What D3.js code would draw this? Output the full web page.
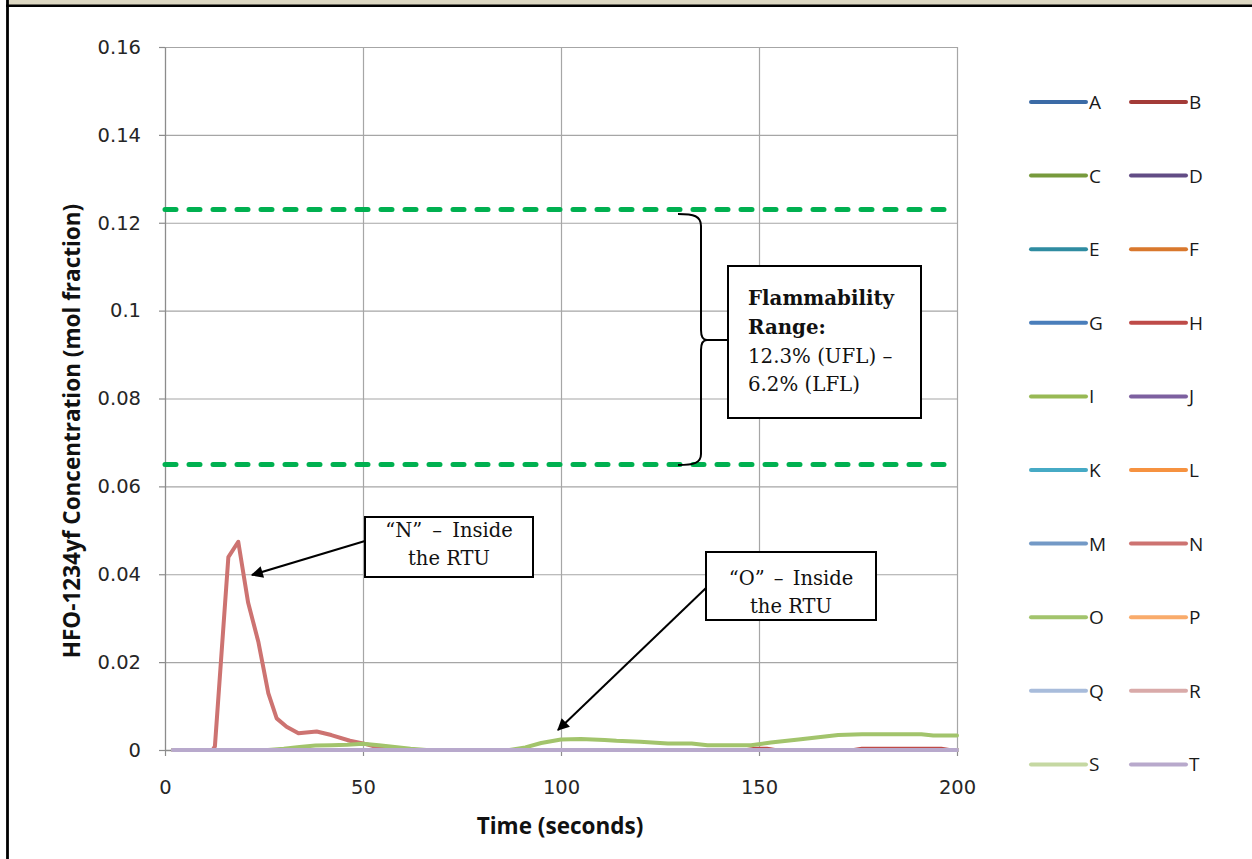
<!DOCTYPE html>
<html>
<head>
<meta charset="utf-8">
<script src="https://cdn.jsdelivr.net/npm/d3@7/dist/d3.min.js"></script>
<style>
  html, body { margin: 0; padding: 0; background: #ffffff; }
  svg { display: block; }
</style>
</head>
<body>
<svg id="chart" width="1252" height="859"></svg>
<script>
// ---------------- DATA ----------------
const seriesNames = ["A","B","C","D","E","F","G","H","I","J","K","L","M","N","O","P","Q","R","S","T"];
const seriesColors = ["#3b6ba6","#a33b38","#779a3c","#624c85","#2f8ca1","#d9782d",
                      "#4a7ebb","#be4b48","#98b954","#7d60a0","#46aac5","#f69240",
                      "#7399c6","#cd7371","#a2c46c","#f9ab6b","#a8bcdb","#d9aaa9","#c5d8a2","#b8a9cc"];

// series that stay at zero for the whole run
const timeZero = [2, 200];
const valuesZero = [0, 0];

// "N" - inside the RTU
const timeN   = [2, 12, 12.6, 16, 18.5, 21, 23.6, 26.1, 28.2, 30.7, 33.7, 38.3, 42, 46.7, 50, 53, 57, 200];
const valuesN = [0, 0, 0.0008, 0.0439, 0.0474, 0.0335, 0.0245, 0.0129, 0.0072, 0.0053, 0.0038, 0.0042, 0.0034, 0.0021, 0.0015, 0.0008, 0, 0];

// "O" - inside the RTU
const timeO   = [2, 26, 30, 34, 38, 42, 46, 50, 54, 58, 62, 66, 87, 91, 95, 100, 105, 111, 114, 120, 127, 133, 137, 148, 153, 160, 165, 170, 176, 184, 191, 194, 200];
const valuesO = [0, 0, 0.0003, 0.0007, 0.0010, 0.0011, 0.0012, 0.0014, 0.0011, 0.0007, 0.0003, 0, 0, 0.0006, 0.0016, 0.0024, 0.0025, 0.0023, 0.0021, 0.0019, 0.0015, 0.0015, 0.0011, 0.0011, 0.0017, 0.0024, 0.0029, 0.0034, 0.0036, 0.0036, 0.0036, 0.0033, 0.0033];

// "H" - barely above zero
const timeH   = [2, 147, 149, 152, 154, 174, 176, 196, 198, 200];
const valuesH = [0, 0, 0.0003, 0.0003, 0, 0, 0.0003, 0.0003, 0, 0];

// flammability limits (mol fraction)
const flammabilityLimits = [0.123, 0.065];

const xTickValues = [0, 50, 100, 150, 200];
const xTickLabels = ["0", "50", "100", "150", "200"];
const yTickValues = [0, 0.02, 0.04, 0.06, 0.08, 0.10, 0.12, 0.14, 0.16];
const yTickLabels = ["0", "0.02", "0.04", "0.06", "0.08", "0.1", "0.12", "0.14", "0.16"];

const xTitle = "Time (seconds)";
const yTitle = "HFO-1234yf Concentration (mol fraction)";

// ---------------- CHART ----------------
const svg = d3.select("#chart");

// frame
svg.append("rect").attr("x", 9).attr("y", 0).attr("width", 1243).attr("height", 5).attr("fill", "#ddd8c2");
svg.append("line").attr("x1", 6).attr("x2", 1252).attr("y1", 5.7).attr("y2", 5.7).attr("stroke", "#000").attr("stroke-width", 2.5);
svg.append("line").attr("x1", 7.5).attr("x2", 7.5).attr("y1", 0).attr("y2", 859).attr("stroke", "#000").attr("stroke-width", 2.8);

const x = d3.scaleLinear().domain([0, 200]).range([165, 957]);
const y = d3.scaleLinear().domain([0, 0.16]).range([750, 47]);

const gridColor = "#a6a6a6";
const axisColor = "#8c8c8c";

// gridlines
svg.append("g")
  .attr("transform", `translate(${x(0)},0)`)
  .call(d3.axisLeft(y).tickValues(yTickValues.slice(1)).tickSize(-(x(200) - x(0))).tickFormat(""))
  .call(g => g.select(".domain").remove())
  .call(g => g.selectAll("line").attr("stroke", gridColor).attr("stroke-width", 1.2));
svg.append("g")
  .attr("transform", `translate(0,${y(0)})`)
  .call(d3.axisBottom(x).tickValues(xTickValues.slice(1)).tickSize(-(y(0) - y(0.16))).tickFormat(""))
  .call(g => g.select(".domain").remove())
  .call(g => g.selectAll("line").attr("stroke", gridColor).attr("stroke-width", 1.2));

// y axis
const yAxis = svg.append("g")
  .attr("transform", `translate(${x(0)},0)`)
  .call(d3.axisLeft(y).tickValues(yTickValues).tickSize(6).tickSizeOuter(0).tickPadding(18)
        .tickFormat((d, i) => yTickLabels[i]));
yAxis.select(".domain").attr("stroke", axisColor).attr("stroke-width", 1.3);
yAxis.selectAll("line").attr("stroke", axisColor).attr("stroke-width", 1.2);
yAxis.selectAll("text").attr("font-family", "'DejaVu Sans', Verdana, sans-serif").attr("font-size", 19.5).attr("fill", "#262626");

// x axis
const xAxis = svg.append("g")
  .attr("transform", `translate(0,${y(0)})`)
  .call(d3.axisBottom(x).tickValues(xTickValues).tickSize(6).tickSizeOuter(0).tickPadding(24)
        .tickFormat((d, i) => xTickLabels[i]));
xAxis.select(".domain").attr("stroke", axisColor).attr("stroke-width", 1.3);
xAxis.selectAll("line").attr("stroke", axisColor).attr("stroke-width", 1.2);
xAxis.selectAll("text").attr("font-family", "'DejaVu Sans', Verdana, sans-serif").attr("font-size", 19.5).attr("fill", "#262626");

// axis titles
svg.append("text").attr("x", 560).attr("y", 834).attr("text-anchor", "middle")
  .attr("font-family", "'Open Sans', sans-serif").attr("font-weight", "bold").attr("font-size", 22.5)
  .attr("fill", "#111").text(xTitle);
svg.append("text").attr("transform", "translate(80,431) rotate(-90)").attr("text-anchor", "middle")
  .attr("font-family", "'Open Sans', sans-serif").attr("font-weight", "bold").attr("font-size", 22.5)
  .attr("fill", "#111").text(yTitle);

// flammability limit lines
svg.append("g").selectAll("line").data(flammabilityLimits).join("line")
  .attr("x1", x(0)).attr("x2", x(200))
  .attr("y1", d => y(d)).attr("y2", d => y(d))
  .attr("stroke", "#00b050").attr("stroke-width", 5)
  .attr("stroke-dasharray", "11,13").attr("stroke-linecap", "round");

// series
const line = d3.line().x(d => x(d[0])).y(d => y(d[1]));
const seriesData = seriesNames.map(name => {
  let t = timeZero, v = valuesZero;
  if (name === "N") { t = timeN; v = valuesN; }
  if (name === "O") { t = timeO; v = valuesO; }
  if (name === "H") { t = timeH; v = valuesH; }
  return { name, pts: t.map((tt, i) => [tt, v[i]]) };
});
svg.append("g").selectAll("path").data(seriesData).join("path")
  .attr("d", d => line(d.pts))
  .attr("fill", "none")
  .attr("stroke", (d, i) => seriesColors[i])
  .attr("stroke-width", 4)
  .attr("stroke-linejoin", "round")
  .attr("stroke-linecap", "round");

// legend
const legend = svg.append("g");
seriesNames.forEach((name, i) => {
  const col = i % 2, row = Math.floor(i / 2);
  const lx = 1031 + col * 100, ly = 102 + row * 73.6;
  legend.append("line").attr("x1", lx).attr("x2", lx + 55).attr("y1", ly).attr("y2", ly)
    .attr("stroke", seriesColors[i]).attr("stroke-width", 4).attr("stroke-linecap", "round");
  legend.append("text").attr("x", lx + 58).attr("y", ly + 7)
    .attr("font-family", "'Open Sans', sans-serif").attr("font-size", 19).attr("fill", "#1a1a1a").text(name);
});

// annotations
const serif = "'DejaVu Serif', serif";
const marker = svg.append("defs").append("marker")
  .attr("id", "arrow").attr("viewBox", "0 0 10 10").attr("refX", 9).attr("refY", 5)
  .attr("markerWidth", 8).attr("markerHeight", 6).attr("markerUnits", "strokeWidth").attr("orient", "auto");
marker.append("path").attr("d", "M0,0 L10,5 L0,10 z").attr("fill", "#000");

function box(x0, y0, w, h, lines, arrowFrom, arrowTo) {
  svg.append("line").attr("x1", arrowFrom[0]).attr("y1", arrowFrom[1]).attr("x2", arrowTo[0]).attr("y2", arrowTo[1])
    .attr("stroke", "#000").attr("stroke-width", 2).attr("marker-end", "url(#arrow)");
  svg.append("rect").attr("x", x0).attr("y", y0).attr("width", w).attr("height", h)
    .attr("fill", "#fff").attr("stroke", "#000").attr("stroke-width", 2);
  lines.forEach((l, i) => {
    svg.append("text").attr("x", x0 + w / 2).attr("y", l.y).attr("text-anchor", "middle")
      .attr("font-family", serif).attr("font-size", 19.5).attr("word-spacing", l.ws || 0)
      .attr("fill", "#111").text(l.t);
  });
}
box(365, 517, 168, 60, [{t: "\u201CN\u201D \u2013 Inside", y: 537, ws: 4}, {t: "the RTU", y: 565}], [365, 541], [252, 575]);
box(706, 552, 170, 68, [{t: "\u201CO\u201D \u2013 Inside", y: 585, ws: 3}, {t: "the RTU", y: 613}], [706, 588], [558, 730]);

// flammability brace + box
svg.append("path")
  .attr("d", "M678,214 C694,214 701,216 701,226 L701,330 C701,337 703,340 707,340 C703,340 701,343 701,350 L701,454 C701,463 694,465 678,465 M707,340 L728,340")
  .attr("fill", "none").attr("stroke", "#000").attr("stroke-width", 2);
svg.append("rect").attr("x", 728).attr("y", 266).attr("width", 193).attr("height", 152)
  .attr("fill", "#fff").attr("stroke", "#000").attr("stroke-width", 2);
const fl = [
  {t: "Flammability", y: 305, b: true},
  {t: "Range:", y: 334, b: true},
  {t: "12.3% (UFL) \u2013", y: 363, b: false},
  {t: "6.2% (LFL)", y: 391, b: false}
];
fl.forEach(l => {
  svg.append("text").attr("x", 748).attr("y", l.y)
    .attr("font-family", serif).attr("font-size", 19.8).attr("font-weight", l.b ? "bold" : "normal")
    .attr("fill", "#111").text(l.t);
});
</script>
</body>
</html>
